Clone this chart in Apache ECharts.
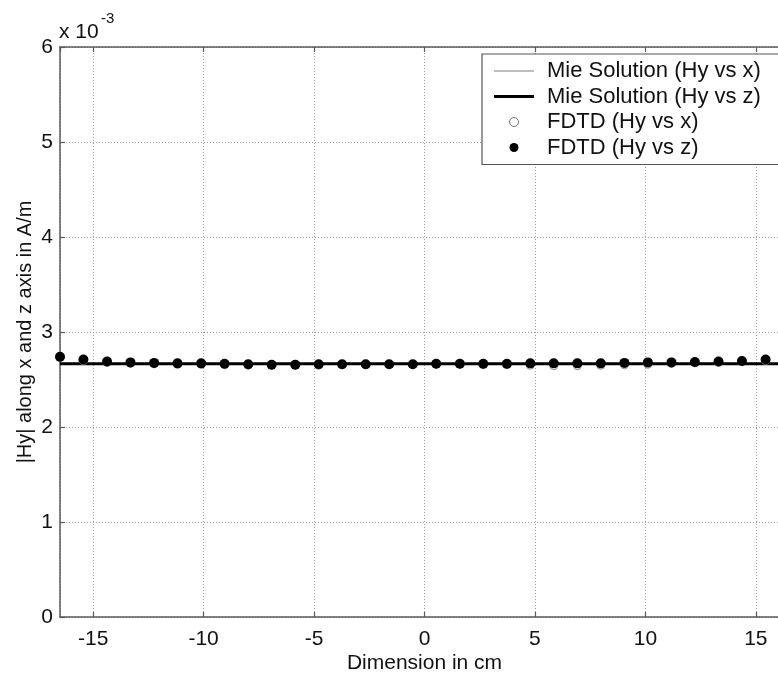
<!DOCTYPE html>
<html>
<head>
<meta charset="utf-8">
<script src="https://cdn.jsdelivr.net/npm/echarts@6/dist/echarts.min.js"></script>
<style>
html,body{margin:0;padding:0;background:#fff;overflow:hidden;}
#chart{width:790px;height:674px;}
</style>
</head>
<body>
<div id="chart"></div>
<script>
// Sample positions (cm)
const xPositions = [-16.5, -15.44, -14.37, -13.31, -12.24, -11.18, -10.11, -9.05, -7.98, -6.92, -5.85, -4.79, -3.73, -2.66, -1.6, -0.53, 0.53, 1.6, 2.66, 3.73, 4.79, 5.85, 6.92, 7.98, 9.05, 10.11, 11.18, 12.24, 13.31, 14.37, 15.44, 16.5];
// |Hy| values in units of 1e-3 A/m
const fdtdHyZ = [2.74, 2.71, 2.69, 2.68, 2.675, 2.67, 2.67, 2.665, 2.66, 2.655, 2.655, 2.66, 2.66, 2.66, 2.66, 2.66, 2.665, 2.665, 2.665, 2.665, 2.67, 2.67, 2.67, 2.67, 2.675, 2.68, 2.68, 2.685, 2.69, 2.695, 2.71, 2.74];
const fdtdHyX = [2.73, 2.70, 2.68, 2.67, 2.665, 2.66, 2.66, 2.655, 2.65, 2.65, 2.65, 2.65, 2.655, 2.655, 2.66, 2.66, 2.66, 2.66, 2.655, 2.655, 2.65, 2.645, 2.645, 2.65, 2.655, 2.66, 2.67, 2.675, 2.68, 2.69, 2.70, 2.73];
const mieX = [-16.5, 16.5];
const mieHyX = [2.665, 2.665];
const mieHyZ = [2.665, 2.665];
const yTicks = [0, 1, 2, 3, 4, 5, 6];
const seriesNames = ['Mie Solution (Hy vs x)', 'Mie Solution (Hy vs z)', 'FDTD (Hy vs x)', 'FDTD (Hy vs z)'];

const pairs = (xs, ys) => xs.map((x, i) => [x, ys[i]]);
const FONT = 'Liberation Sans, Arial, Helvetica, sans-serif';

const chart = echarts.init(document.getElementById('chart'));
const axisColor = '#5a5a5a';
const gridLine = {show: true, lineStyle: {type: [1, 2], color: '#9a9a9a', width: 1}};

chart.setOption({
  animation: false,
  backgroundColor: '#fff',
  textStyle: {fontFamily: FONT},
  grid: {left: 60, top: 47, width: 729, height: 570, containLabel: false, outerBoundsMode: 'none'},
  xAxis: [{
    type: 'value', min: -16.5, max: 16.5, position: 'bottom',
    axisLine: {onZero: false, lineStyle: {color: axisColor, width: 1.5}},
    axisTick: {inside: true, length: 5, lineStyle: {color: axisColor, width: 1.2}},
    axisLabel: {fontSize: 21, color: '#111', margin: 12, showMinLabel: false, showMaxLabel: false, fontFamily: FONT},
    splitLine: gridLine,
    name: 'Dimension in cm', nameLocation: 'middle', nameGap: 36, nameMoveOverlap: false,
    nameTextStyle: {fontSize: 21, color: '#111', fontFamily: FONT}
  }, {
    type: 'value', min: -16.5, max: 16.5, position: 'top',
    axisLine: {onZero: false, lineStyle: {color: axisColor, width: 1.5}},
    axisTick: {inside: true, length: 5, lineStyle: {color: axisColor, width: 1.2}},
    axisLabel: {show: false}, splitLine: {show: false}
  }],
  yAxis: [{
    type: 'value', min: 0, max: 6, interval: 1,
    axisLine: {show: true, onZero: false, lineStyle: {color: axisColor, width: 1.5}},
    axisTick: {show: true, inside: true, length: 5, lineStyle: {color: axisColor, width: 1.2}},
    axisLabel: {fontSize: 21, color: '#111', margin: 7, fontFamily: FONT,
      formatter: v => yTicks.includes(Math.round(v)) ? String(Math.round(v)) : ''},
    splitLine: gridLine,
    name: '|Hy| along x and z axis in A/m', nameLocation: 'middle', nameGap: 25, nameMoveOverlap: false,
    nameTextStyle: {fontSize: 20, color: '#111', fontFamily: FONT}
  }],
  legend: {
    orient: 'vertical', left: 482, top: 54,
    backgroundColor: '#fff', borderColor: '#555', borderWidth: 1.2,
    padding: [6, 20, 6, 12], itemGap: 3.5, itemWidth: 40, itemHeight: 9,
    symbolKeepAspect: true,
    textStyle: {fontSize: 22, color: '#111', lineHeight: 21, fontFamily: FONT, padding: [0, 0, 0, 8]},
    data: [
      {name: seriesNames[0], icon: 'path://M0,0L40,0L40,1.3L0,1.3Z'},
      {name: seriesNames[1], icon: 'path://M0,0L40,0L40,3L0,3Z'},
      {name: seriesNames[2], icon: 'circle', itemStyle: {color: '#fff', borderColor: '#777', borderWidth: 1}},
      {name: seriesNames[3], icon: 'circle'}
    ]
  },
  graphic: [
    {type: 'text', left: 59, top: 22, style: {text: 'x 10', fontSize: 21, fill: '#111', fontFamily: FONT}},
    {type: 'text', left: 101, top: 11, style: {text: '-3', fontSize: 15, fill: '#111', fontFamily: FONT}}
  ],
  series: [
    {name: seriesNames[0], type: 'line', data: pairs(mieX, mieHyX), showSymbol: false, symbol: 'none',
      color: '#a8a8a8', lineStyle: {color: '#a8a8a8', width: 1.5}, z: 2},
    {name: seriesNames[1], type: 'line', data: pairs(mieX, mieHyZ), showSymbol: false, symbol: 'none',
      color: '#000', lineStyle: {color: '#000', width: 3}, z: 3},
    {name: seriesNames[2], type: 'scatter', data: pairs(xPositions, fdtdHyX), symbol: 'circle', symbolSize: 8,
      itemStyle: {color: '#fff', borderColor: '#888', borderWidth: 1, opacity: 1}, z: 4},
    {name: seriesNames[3], type: 'scatter', data: pairs(xPositions, fdtdHyZ), symbol: 'circle', symbolSize: 10,
      itemStyle: {color: '#000', opacity: 1}, z: 5}
  ]
});
</script>
</body>
</html>
